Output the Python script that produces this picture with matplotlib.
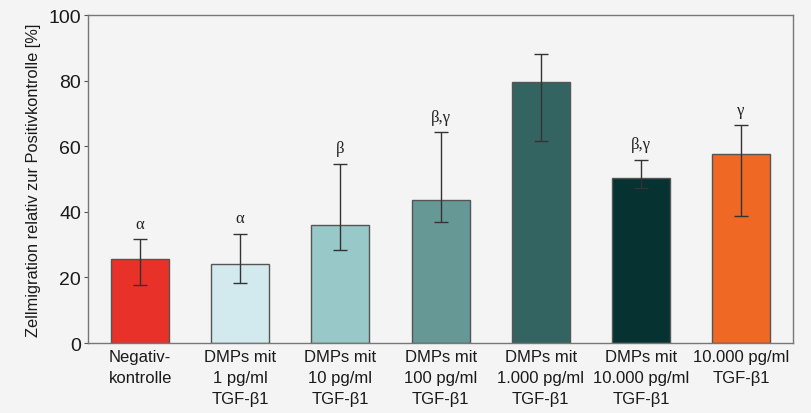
import numpy as np
import matplotlib.pyplot as plt

labels = ['Negativ-\nkontrolle', 'DMPs mit\n1 pg/ml\nTGF-β1', 'DMPs mit\n10 pg/ml\nTGF-β1',
          'DMPs mit\n100 pg/ml\nTGF-β1', 'DMPs mit\n1.000 pg/ml\nTGF-β1',
          'DMPs mit\n10.000 pg/ml\nTGF-β1', '10.000 pg/ml\nTGF-β1']
means = [25.7, 24.0, 35.9, 43.5, 79.6, 50.3, 57.6]
err_hi = [31.6, 33.3, 54.6, 64.3, 88.3, 55.9, 66.4]
err_lo = [17.8, 18.3, 28.5, 36.8, 61.5, 47.2, 38.7]
sig = ['α', 'α', 'β', 'β,γ', '', 'β,γ', 'γ']
colors = ['#e83128', '#d2e9ee', '#98c8c7', '#669896', '#336462', '#063232', '#ef6824']

plt.rcParams['font.family'] = ['Liberation Sans', 'DejaVu Sans']
bg = '#f4f4f4'
fig, ax = plt.subplots(figsize=(8.11, 4.14), dpi=100)
fig.patch.set_facecolor(bg)
ax.set_facecolor(bg)
fig.subplots_adjust(left=0.1085, right=0.978, top=0.961, bottom=0.169)

x = np.arange(len(means))
means = np.array(means)
yerr = [means - np.array(err_lo), np.array(err_hi) - means]
ax.bar(x, means, width=0.58, color=colors, edgecolor='#555555', linewidth=1.0, zorder=2)
ax.errorbar(x, means, yerr=yerr, fmt='none', ecolor='#333333', elinewidth=1.0,
            capsize=4.8, capthick=1.0, zorder=3)

for xi, top, s in zip(x, err_hi, sig):
    if s:
        ax.text(xi, top + 2.3, s, ha='center', va='bottom', fontsize=12,
                family=['Liberation Serif', 'DejaVu Serif'], color='#222222')

ax.set_xlim(-0.52, 6.52)
ax.set_ylim(0, 100)
ax.set_yticks([0, 20, 40, 60, 80, 100])
ax.set_xticks(x)
ax.set_xticklabels(labels, fontsize=12, color='#1a1a1a', linespacing=1.5)
ax.tick_params(axis='x', length=0, pad=4)
ax.tick_params(axis='y', labelsize=14, length=3, pad=2, color='#555555', labelcolor='#1a1a1a')
ax.set_ylabel('Zellmigration relativ zur Positivkontrolle [%]', fontsize=11.8, color='#1a1a1a',
              labelpad=5)
for sp in ax.spines.values():
    sp.set_color('#777777')
    sp.set_linewidth(1.0)

fig.savefig('out.png', dpi=100, facecolor=bg)
